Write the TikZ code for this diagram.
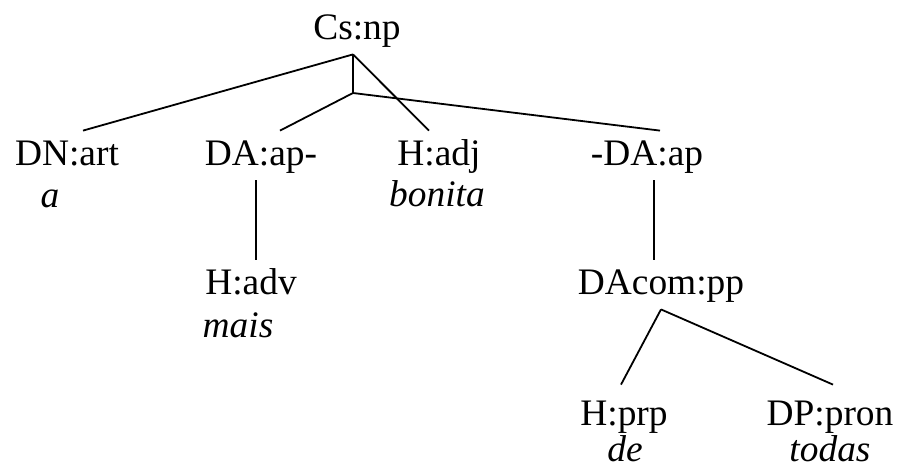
\documentclass[tikz,border=0pt]{standalone}
\usepackage{fontspec}
\setmainfont{Liberation Serif}
\usepackage{tikz}

\begin{document}
\begin{tikzpicture}[x=0.5pt,y=-0.5pt,
  cat/.style={anchor=base,inner sep=0pt,text height=17pt,text depth=7.5pt,font=\fontsize{18.7}{22}\selectfont},
  word/.style={anchor=base,inner sep=0pt,font=\fontsize{18.7}{22}\selectfont\itshape},
  branch/.style={line width=0.9pt}]

\useasboundingbox (0,0) rectangle (902,468);

% Categories
\node[cat] (csnp) at (357,39) {Cs:np};
\node[cat] (dnart) at (67,165) {DN:art};
\node[cat] (daap) at (261,165) {DA:ap-};
\node[cat] (hadj) at (439,165) {H:adj};
\node[cat] (ndaap) at (647,165) {-DA:ap};
\node[cat] (hadv) at (251,294) {H:adv};
\node[cat] (dacom) at (661,294) {DAcom:pp};
\node[cat] (hprp) at (624,425) {H:prp};
\node[cat] (dppron) at (830,425) {DP:pron};

% Words
\node[word] (wa) at (50,207) {a};
\node[word] (wbonita) at (437,206) {bonita};
\node[word] (wmais) at (238,337) {mais};
\node[word] (wde) at (625,461) {de};
\node[word] (wtodas) at (830,461) {todas};

% Branches
\coordinate (junc) at (353,93);
\draw[branch] ([xshift=-2pt]csnp.south) -- ([xshift=8pt]dnart.north);
\draw[branch] ([xshift=-2pt]csnp.south) -- (junc);
\draw[branch] ([xshift=-2pt]csnp.south) -- ([xshift=-5pt]hadj.north);
\draw[branch] (junc) -- ([xshift=9.5pt]daap.north);
\draw[branch] (junc) -- ([xshift=6.5pt]ndaap.north);
\draw[branch] ([xshift=-2.5pt]daap.south) -- ([xshift=2.5pt]hadv.north);
\draw[branch] ([xshift=3.5pt]ndaap.south) -- ([xshift=-3.5pt]dacom.north);
\draw[branch] (dacom.south) -- ([xshift=-1.5pt,yshift=3pt]hprp.north);
\draw[branch] (dacom.south) -- ([xshift=1.5pt,yshift=3pt]dppron.north);

\end{tikzpicture}
\end{document}
